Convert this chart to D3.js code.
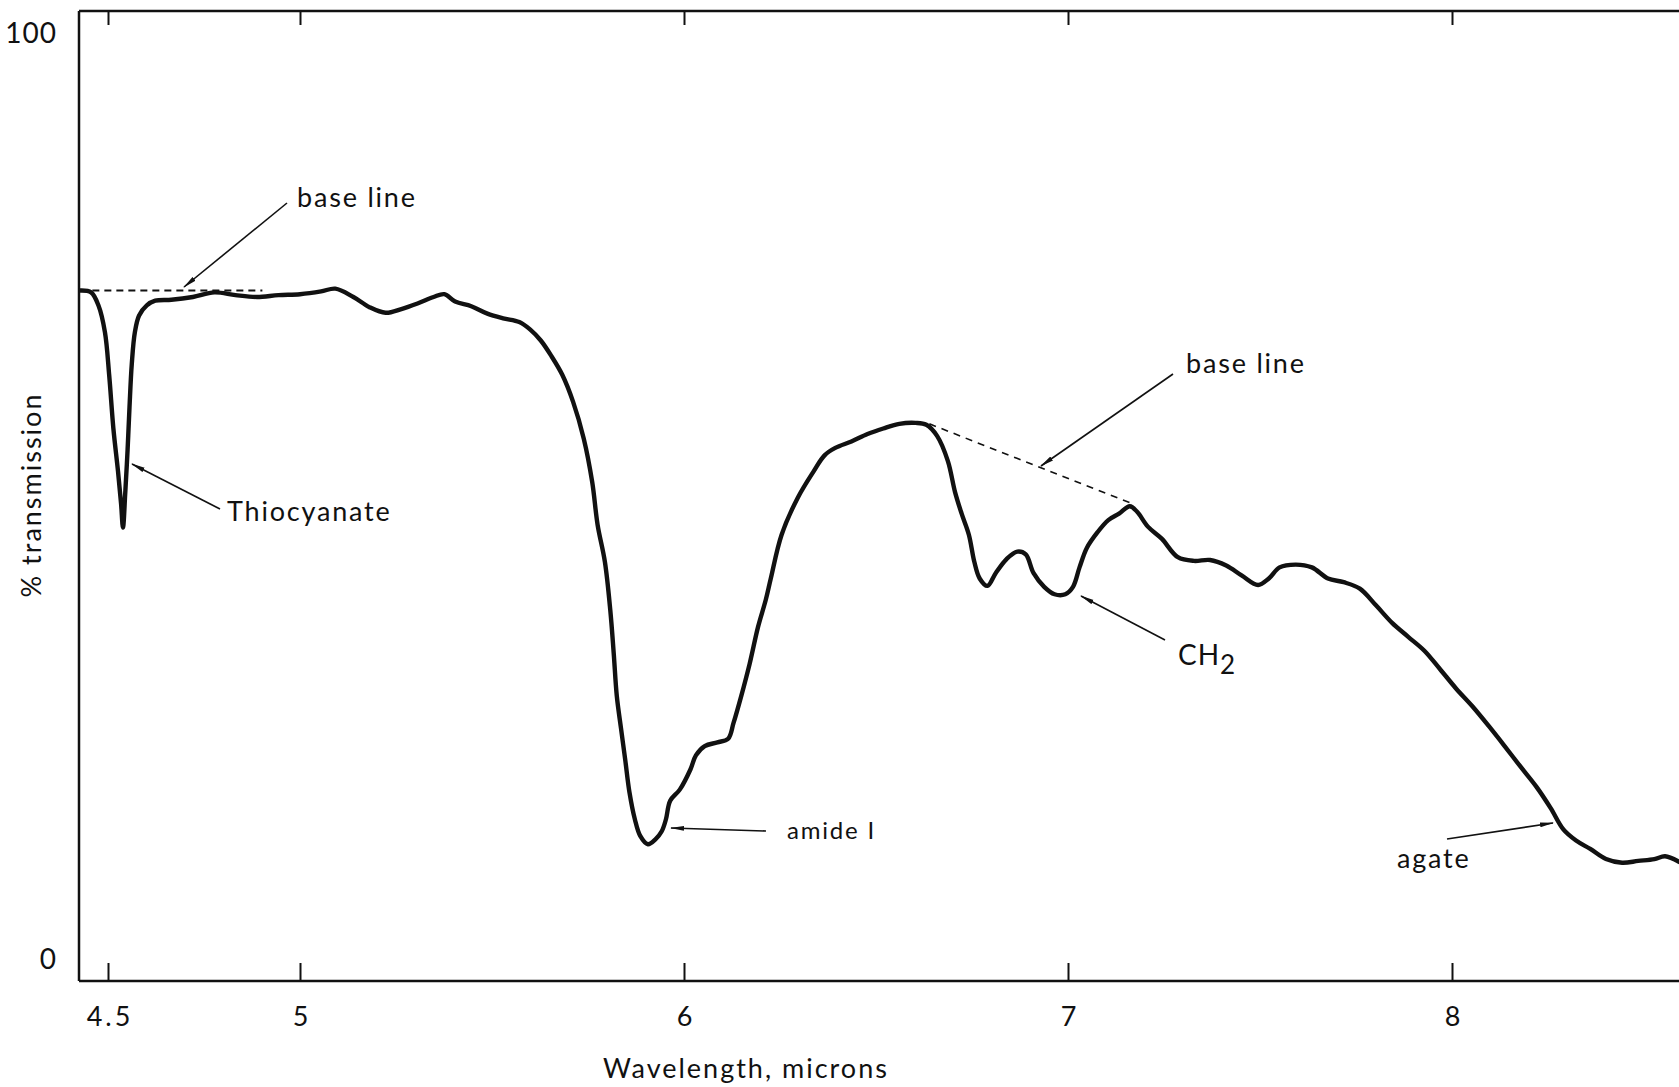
<!DOCTYPE html>
<html>
<head>
<meta charset="utf-8">
<script src="https://cdn.jsdelivr.net/npm/d3@7"></script>
<style>
  html, body { margin: 0; padding: 0; background: #fff; }
  svg { display: block; }
  text { font-family: Lato, "Open Sans", sans-serif; fill: #111; }
</style>
</head>
<body>
<svg id="chart" width="1679" height="1087"></svg>
<script>
// Infrared spectrum: wavelength (microns) vs % transmission
const wavelength = [
  4.428, 4.456, 4.475, 4.492, 4.503, 4.514, 4.526, 4.534, 4.539, 4.545,
  4.551, 4.556, 4.562, 4.570, 4.581, 4.601, 4.623, 4.665, 4.721, 4.777,
  4.832, 4.888, 4.944, 5.000, 5.055, 5.092, 5.139, 5.181, 5.223, 5.264,
  5.306, 5.348, 5.376, 5.404, 5.446, 5.488, 5.529, 5.571, 5.599, 5.627,
  5.655, 5.683, 5.711, 5.739, 5.761, 5.775, 5.794, 5.808, 5.817, 5.825,
  5.836, 5.847, 5.858, 5.872, 5.886, 5.906, 5.925, 5.942, 5.953, 5.964,
  5.989, 6.017, 6.031, 6.054, 6.087, 6.115, 6.129, 6.149, 6.171, 6.193,
  6.213, 6.226, 6.254, 6.296, 6.338, 6.366, 6.394, 6.436, 6.478, 6.519,
  6.561, 6.603, 6.631, 6.659, 6.687, 6.706, 6.723, 6.742, 6.756, 6.770,
  6.790, 6.812, 6.840, 6.868, 6.890, 6.910, 6.938, 6.965, 6.993, 7.013,
  7.030, 7.049, 7.077, 7.105, 7.133, 7.161, 7.180, 7.208, 7.244, 7.286,
  7.328, 7.370, 7.412, 7.453, 7.495, 7.523, 7.551, 7.593, 7.635, 7.677,
  7.718, 7.760, 7.802, 7.844, 7.886, 7.928, 7.969, 8.011, 8.053, 8.095,
  8.137, 8.178, 8.220, 8.257, 8.290, 8.323, 8.360, 8.401, 8.443, 8.485,
  8.527, 8.555, 8.591
];
const transmission = [
  72.3, 72.1, 70.7, 67.8, 63.2, 57.4, 52.8, 49.3, 46.7, 50.5,
  55.1, 59.7, 64.4, 67.8, 69.6, 70.7, 71.2, 71.3, 71.6, 72.1,
  71.8, 71.6, 71.8, 71.9, 72.2, 72.5, 71.6, 70.5, 69.9, 70.3,
  70.9, 71.6, 71.9, 71.1, 70.6, 69.8, 69.3, 68.9, 68.1, 66.9,
  65.2, 63.2, 60.3, 56.3, 51.6, 47.0, 43.0, 37.8, 33.1, 28.5,
  25.0, 21.6, 18.1, 15.2, 13.4, 12.5, 13.0, 13.9, 15.2, 17.2,
  18.4, 20.6, 22.1, 23.1, 23.5, 23.9, 25.6, 28.5, 32.0, 36.0,
  38.9, 41.2, 45.9, 49.9, 52.8, 54.5, 55.3, 56.0, 56.8, 57.4,
  57.9, 58.0, 57.8, 56.6, 53.9, 50.5, 48.2, 45.9, 43.0, 41.2,
  40.4, 41.8, 43.3, 44.1, 43.8, 41.8, 40.3, 39.5, 39.5, 40.3,
  42.4, 44.5, 46.2, 47.5, 48.2, 49.0, 48.4, 46.8, 45.5, 43.5,
  43.1, 43.2, 42.6, 41.5, 40.5, 41.2, 42.4, 42.7, 42.4, 41.2,
  40.8, 40.1, 38.3, 36.4, 34.9, 33.4, 31.4, 29.3, 27.4, 25.3,
  23.1, 20.9, 18.7, 16.4, 14.1, 12.9, 12.0, 10.9, 10.5, 10.7,
  10.9, 11.2, 10.6
];

// Dashed base lines drawn across the absorption bands
const baseline1Wavelength = [4.428, 4.902];
const baseline1Transmission = [72.3, 72.3];
const baseline2Wavelength = [6.639, 7.166];
const baseline2Transmission = [57.9, 49.3];

// Axis ticks and labels
const xTicks = [4.5, 5, 6, 7, 8];
const xTickLabels = ["4.5", "5", "6", "7", "8"];
const yTicks = [0, 100];
const yTickLabels = ["0", "100"];

const svg = d3.select("#chart");

const x = d3.scaleLinear().domain([4.5, 8]).range([108, 1452]);
const y = d3.scaleLinear().domain([0, 100]).range([960, 34]);

const frameLeft = 79, frameTop = 11, frameBottom = 981, frameRight = 1679;

// arrowhead marker
const defs = svg.append("defs");
defs.append("marker")
  .attr("id", "arrow")
  .attr("viewBox", "0 0 14 6")
  .attr("refX", 13).attr("refY", 3)
  .attr("markerWidth", 14).attr("markerHeight", 6)
  .attr("markerUnits", "userSpaceOnUse")
  .attr("orient", "auto")
  .append("path")
  .attr("d", "M0,0.6 L14,3 L0,5.4 Z")
  .attr("fill", "#111");

// frame
const frame = svg.append("g").attr("stroke", "#111").attr("fill", "none");
frame.append("line").attr("x1", frameLeft).attr("x2", frameRight)
  .attr("y1", frameTop).attr("y2", frameTop).attr("stroke-width", 2.5);
frame.append("line").attr("x1", frameLeft).attr("x2", frameRight)
  .attr("y1", frameBottom).attr("y2", frameBottom).attr("stroke-width", 2.5);
frame.append("line").attr("x1", frameLeft).attr("x2", frameLeft)
  .attr("y1", frameTop).attr("y2", frameBottom).attr("stroke-width", 2.5);

// bottom axis: inward ticks, labels below
const xAxisBottom = d3.axisBottom(x)
  .tickValues(xTicks)
  .tickFormat((d, i) => xTickLabels[i])
  .tickSizeInner(-18).tickSizeOuter(0).tickPadding(26);
const gxb = svg.append("g").attr("transform", `translate(0,${frameBottom})`).call(xAxisBottom);
gxb.select(".domain").remove();
gxb.selectAll(".tick line").attr("stroke", "#111").attr("stroke-width", 2);
gxb.selectAll(".tick text").attr("font-size", 27).attr("letter-spacing", 3)
  .attr("dx", 1.5)
  .style("font-family", "Lato, 'Open Sans', sans-serif").attr("fill", "#111");

// top axis: inward ticks only
const xAxisTop = d3.axisTop(x).tickValues(xTicks).tickFormat("")
  .tickSizeInner(-14).tickSizeOuter(0);
const gxt = svg.append("g").attr("transform", `translate(0,${frameTop})`).call(xAxisTop);
gxt.select(".domain").remove();
gxt.selectAll(".tick line").attr("stroke", "#111").attr("stroke-width", 2);

// left axis: labels only
const yAxis = d3.axisLeft(y).tickValues(yTicks)
  .tickFormat((d, i) => yTickLabels[i]).tickSize(0).tickPadding(0);
const gy = svg.append("g").attr("transform", `translate(${frameLeft - 22},0)`).call(yAxis);
gy.select(".domain").remove();
gy.selectAll(".tick text").attr("font-size", 28).attr("letter-spacing", 1)
  .style("font-family", "Lato, 'Open Sans', sans-serif").attr("fill", "#111");

// axis titles
svg.append("text")
  .attr("x", 746).attr("y", 1078)
  .attr("text-anchor", "middle").attr("font-size", 27).attr("letter-spacing", 2)
  .text("Wavelength, microns");
svg.append("text")
  .attr("transform", "translate(41,495) rotate(-90)")
  .attr("text-anchor", "middle").attr("font-size", 27).attr("letter-spacing", 2)
  .text("% transmission");

// base lines
const line = d3.line().x(d => x(d[0])).y(d => y(d[1]));
svg.append("path")
  .datum(d3.zip(baseline1Wavelength, baseline1Transmission))
  .attr("d", line).attr("fill", "none").attr("stroke", "#111")
  .attr("stroke-width", 2).attr("stroke-dasharray", "7,5");
svg.append("path")
  .datum(d3.zip(baseline2Wavelength, baseline2Transmission))
  .attr("d", line).attr("fill", "none").attr("stroke", "#111")
  .attr("stroke-width", 1.6).attr("stroke-dasharray", "7,6");

// spectrum trace
const trace = d3.line()
  .x(d => x(d[0])).y(d => y(d[1]))
  .curve(d3.curveCatmullRom.alpha(0.5));
svg.append("path")
  .datum(d3.zip(wavelength, transmission))
  .attr("d", trace)
  .attr("fill", "none").attr("stroke", "#111")
  .attr("stroke-width", 4.4).attr("stroke-linejoin", "round").attr("stroke-linecap", "round");

// annotations: label text and a leader line ending in an arrowhead
const notes = [
  { text: "base line", tx: 297, ty: 207, size: 27, from: [287, 203], to: [184, 287] },
  { text: "Thiocyanate", tx: 227, ty: 521, size: 27, from: [220, 509], to: [132, 464] },
  { text: "amide I", tx: 787, ty: 839, size: 24, from: [766, 831], to: [671, 828] },
  { text: "base line", tx: 1186, ty: 373, size: 27, from: [1173, 374], to: [1041, 466] },
  { text: "agate", tx: 1397, ty: 868, size: 27, from: [1447, 839], to: [1553, 823] }
];
const ann = svg.append("g");
notes.forEach(n => {
  ann.append("line")
    .attr("x1", n.from[0]).attr("y1", n.from[1])
    .attr("x2", n.to[0]).attr("y2", n.to[1])
    .attr("stroke", "#111").attr("stroke-width", 1.6)
    .attr("marker-end", "url(#arrow)");
  ann.append("text")
    .attr("x", n.tx).attr("y", n.ty)
    .attr("font-size", n.size).attr("letter-spacing", 1.8)
    .text(n.text);
});

// CH2 label with subscript
ann.append("line")
  .attr("x1", 1165).attr("y1", 640).attr("x2", 1081).attr("y2", 596)
  .attr("stroke", "#111").attr("stroke-width", 1.6)
  .attr("marker-end", "url(#arrow)");
const ch2 = ann.append("text").attr("x", 1178).attr("y", 665)
  .attr("font-size", 28).attr("letter-spacing", 1);
ch2.append("tspan").text("CH");
ch2.append("tspan").attr("dy", 9).attr("font-size", 26).text("2");
</script>
</body>
</html>
